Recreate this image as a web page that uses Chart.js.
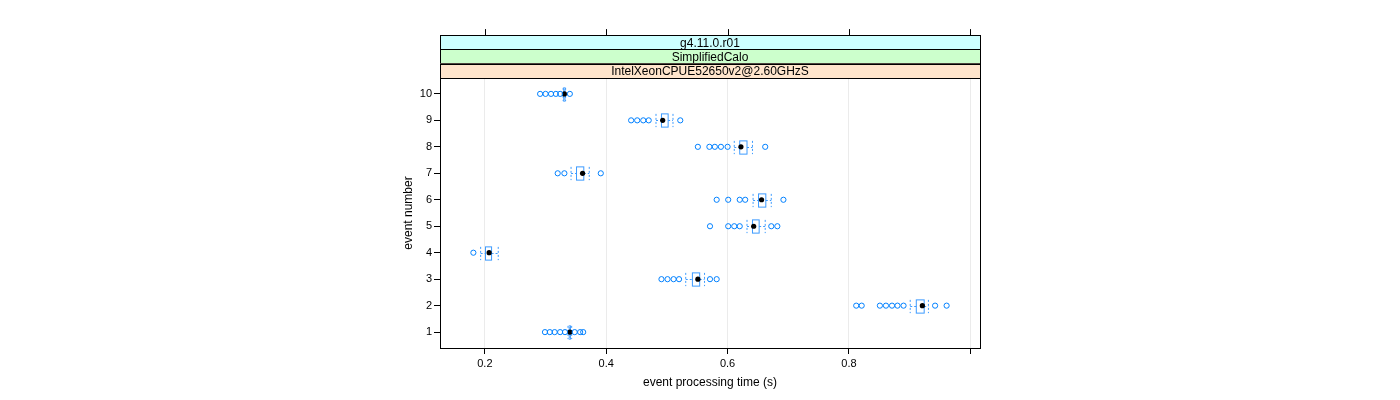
<!DOCTYPE html>
<html>
<head>
<meta charset="utf-8">
<script src="https://cdn.jsdelivr.net/npm/chart.js@4/dist/chart.umd.min.js"></script>
<style>
  html, body { margin: 0; padding: 0; background: #fff; }
  #wrap { width: 1400px; height: 400px; position: relative; }
</style>
</head>
<body>
<div id="wrap"><canvas id="c"></canvas></div>
<script>
// event number per row
const events = [1, 2, 3, 4, 5, 6, 7, 8, 9, 10];
// box statistics (s)
const whiskLo = [0.337, 0.901, 0.531, 0.193, 0.632, 0.642, 0.342, 0.611, 0.482, 0.329];
const q1      = [0.339, 0.911, 0.542, 0.201, 0.641, 0.651, 0.351, 0.620, 0.491, 0.330];
const median  = [0.340, 0.921, 0.551, 0.207, 0.643, 0.656, 0.361, 0.622, 0.493, 0.331];
const q3      = [0.341, 0.924, 0.554, 0.211, 0.652, 0.663, 0.363, 0.632, 0.502, 0.332];
const whiskHi = [0.343, 0.931, 0.562, 0.222, 0.662, 0.672, 0.372, 0.641, 0.510, 0.333];
// outliers per event
const outliers = [
  [0.299, 0.307, 0.315, 0.324, 0.332, 0.348, 0.357, 0.362],
  [0.812, 0.821, 0.851, 0.861, 0.871, 0.880, 0.890, 0.942, 0.961],
  [0.491, 0.501, 0.511, 0.520, 0.571, 0.582],
  [0.181],
  [0.571, 0.601, 0.611, 0.620, 0.672, 0.682],
  [0.582, 0.601, 0.620, 0.629, 0.692],
  [0.320, 0.331, 0.391],
  [0.551, 0.570, 0.579, 0.589, 0.600, 0.662],
  [0.441, 0.451, 0.461, 0.470, 0.522],
  [0.291, 0.300, 0.309, 0.317, 0.324, 0.340]
];
const xTicks = [0.2, 0.4, 0.6, 0.8, 1.0];
const xTickLabels = ['0.2', '0.4', '0.6', '0.8', ''];
const stripTexts = ['g4.11.0.r01', 'SimplifiedCalo', 'IntelXeonCPUE52650v2@2.60GHzS'];
const stripColors = ['#ccffff', '#ccffcc', '#ffe5cc'];

const F = "'Liberation Sans', Arial, sans-serif";
const BLUE = '#0080ff';

const outPts = [];
outliers.forEach((arr, i) => arr.forEach(v => outPts.push({ x: v, y: events[i] })));
const medPts = median.map((v, i) => ({ x: v, y: events[i] }));

// boxes, umbrellas, strips and panel frame (lattice look)
const lattice = {
  id: 'lattice',
  beforeDatasetsDraw(chart) {
    const ctx = chart.ctx, xA = chart.scales.x, yA = chart.scales.y;
    const hh = Math.abs(yA.getPixelForValue(0.25) - yA.getPixelForValue(0));
    ctx.save();
    ctx.strokeStyle = '#3d9bff';
    ctx.lineWidth = 1;
    events.forEach((e, i) => {
      const y = Math.round(yA.getPixelForValue(e)) + 0.5;
      const xl = xA.getPixelForValue(whiskLo[i]), xq1 = xA.getPixelForValue(q1[i]);
      const xq3 = xA.getPixelForValue(q3[i]), xh = xA.getPixelForValue(whiskHi[i]);
      ctx.setLineDash([]);
      ctx.strokeRect(xq1, y - hh, Math.max(xq3 - xq1, 0.5), hh * 2);
      ctx.setLineDash([2, 2]);
      ctx.beginPath();
      ctx.moveTo(xl, y); ctx.lineTo(xq1, y);
      ctx.moveTo(xq3, y); ctx.lineTo(xh, y);
      ctx.moveTo(xl, y - hh); ctx.lineTo(xl, y + hh);
      ctx.moveTo(xh, y - hh); ctx.lineTo(xh, y + hh);
      ctx.stroke();
    });
    ctx.restore();
  },
  afterDraw(chart) {
    const ctx = chart.ctx, a = chart.chartArea, xA = chart.scales.x;
    ctx.save();
    ctx.strokeStyle = '#000';
    ctx.lineWidth = 1;
    const sh = 14.3;
    const top = a.top - sh * 3;
    stripTexts.forEach((t, i) => {
      const y0 = top + sh * i;
      ctx.fillStyle = stripColors[i];
      ctx.fillRect(a.left, y0, a.right - a.left, sh);
      ctx.strokeRect(Math.round(a.left) + 0.5, Math.round(y0) + 0.5, Math.round(a.right - a.left), Math.round(sh));
      ctx.fillStyle = '#000';
      ctx.font = `12px ${F}`;
      ctx.textAlign = 'center';
      ctx.textBaseline = 'middle';
      ctx.fillText(t, (a.left + a.right) / 2, y0 + sh / 2 + 1);
    });
    ctx.strokeRect(Math.round(a.left) + 0.5, Math.round(a.top) + 0.5, Math.round(a.right - a.left), Math.round(a.bottom - a.top));
    // top ticks above strips
    ctx.beginPath();
    xTicks.forEach(v => {
      const px = Math.round(xA.getPixelForValue(v)) + 0.5;
      ctx.moveTo(px, top); ctx.lineTo(px, top - 6);
    });
    ctx.stroke();
    ctx.restore();
  }
};

new Chart(document.getElementById('c'), {
  type: 'scatter',
  data: {
    datasets: [
      {
        label: 'outliers', data: outPts,
        pointStyle: 'circle', pointRadius: 2.6, pointBorderWidth: 1,
        pointBorderColor: BLUE, pointBackgroundColor: 'rgba(0,0,0,0)'
      },
      {
        label: 'median', data: medPts,
        pointStyle: 'circle', pointRadius: 2.6, pointBorderWidth: 0,
        pointBackgroundColor: '#000'
      }
    ]
  },
  options: {
    responsive: true, maintainAspectRatio: false, animation: false,
    layout: { padding: { left: 397, right: 420, top: 78, bottom: 6 } },
    plugins: { legend: { display: false }, tooltip: { enabled: false } },
    scales: {
      x: {
        type: 'linear', min: 0.126, max: 1.016,
        afterBuildTicks: s => { s.ticks = xTicks.map(v => ({ value: v })); },
        afterFit: s => { s.height = 46; },
        grid: { color: '#ebebeb', tickColor: '#000', tickLength: 6, drawTicks: true },
        border: { display: false },
        ticks: { color: '#000', font: { size: 11, family: F }, padding: 3, maxRotation: 0,
                 callback: (v, i) => xTickLabels[i] },
        title: { display: true, text: 'event processing time (s)', color: '#000', font: { size: 12, family: F } }
      },
      y: {
        type: 'linear', min: 0.4, max: 10.6,
        afterBuildTicks: s => { s.ticks = events.map(v => ({ value: v })); },
        afterFit: s => { s.width = 43; },
        grid: { drawOnChartArea: false, tickColor: '#000', tickLength: 6, drawTicks: true },
        border: { display: false },
        ticks: { color: '#000', font: { size: 11, family: F }, padding: 2,
                 callback: (v, i) => String(events[i]) },
        title: { display: true, text: 'event number', color: '#000', font: { size: 12, family: F } }
      }
    }
  },
  plugins: [lattice]
});
</script>
</body>
</html>
